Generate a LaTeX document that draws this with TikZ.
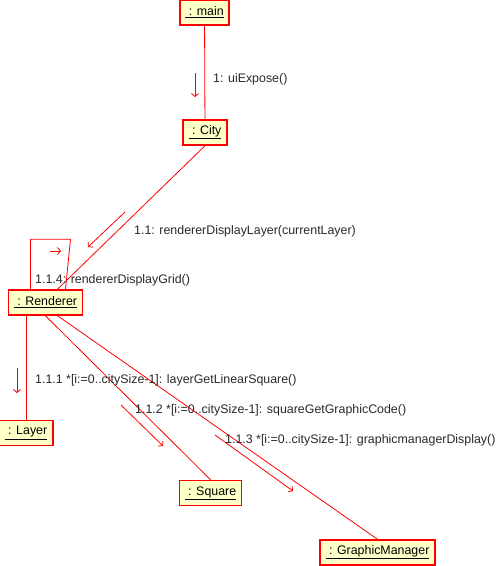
\documentclass[tikz,border=0pt]{standalone}
\usepackage{fontspec}
\setmainfont{Liberation Sans}
\usetikzlibrary{arrows.meta}
\definecolor{umlRed}{RGB}{255,0,0}
\definecolor{umlYellow}{RGB}{255,255,200}
\definecolor{umlText}{RGB}{40,40,40}

\begin{document}
\begin{tikzpicture}[x=1pt,y=-1pt,
  obj/.style={draw=umlRed,fill=umlYellow,line width=1.5pt,minimum height=25pt,inner xsep=5.5pt,inner ysep=0pt,font=\fontsize{12.4}{14}\selectfont},
  link/.style={draw=umlRed,line width=0.8pt},
  msg/.style={draw=umlRed,line width=0.8pt,-{Straight Barb[length=3pt,width=7pt]}},
  lbl/.style={anchor=west,inner sep=0pt,text=umlText,font=\fontsize{12.4}{14}\selectfont}]
\useasboundingbox (0,0) rectangle (499,566);
\node[obj] (main) at (204.5,12.5) {\underline{\ : main}};
\node[obj] (city) at (205,132.5) {\underline{\ : City}};
\node[obj] (renderer) at (45.5,302.5) {\underline{\ : Renderer}};
\node[obj] (layer) at (26,433) {\underline{\ : Layer}};
\node[obj] (square) at (210.5,493) {\underline{\ : Square}};
\node[obj] (gm) at (377.5,552.5) {\underline{\ : GraphicManager}};

\draw[link] (main) -- (city);
\draw[link] (city.south) -- ([xshift=12pt]renderer.north);
\draw[link] ([xshift=-15pt]renderer.north) -- ++(0,-50) -- ++(40,0) -- ([xshift=20pt]renderer.north);
\draw[link] (renderer.south -| layer.north) -- (layer.north);
\draw[link] (renderer.south) -- (square.north);
\draw[link] ([xshift=12pt]renderer.south) -- (gm.north);

\coordinate (m1a) at (195,73);   \coordinate (m1b) at (195,97);
\coordinate (m11a) at (125,212); \coordinate (m11b) at (88,247);
\coordinate (m114a) at (50,251); \coordinate (m114b) at (61,251);
\coordinate (m111a) at (17,368); \coordinate (m111b) at (17,393);
\coordinate (m112a) at (121,405); \coordinate (m112b) at (163,446);
\coordinate (m113a) at (215,435); \coordinate (m113b) at (293,491);
\draw[msg] (m1a) -- (m1b);
\draw[msg] (m11a) -- (m11b);
\draw[msg] (m114a) -- (m114b);
\draw[msg] (m111a) -- (m111b);
\draw[msg] (m112a) -- (m112b);
\draw[msg] (m113a) -- (m113b);

\node[lbl] (l1) at (213,79) {1: uiExpose()};
\node[lbl] (l11) at (134,231) {1.1: rendererDisplayLayer(currentLayer)};
\node[lbl] (l114) at (35,280) {1.1.4: rendererDisplayGrid()};
\node[lbl] (l111) at (35,380) {1.1.1 *[i:=0..citySize-1]: layerGetLinearSquare()};
\node[lbl] (l112) at (135,410) {1.1.2 *[i:=0..citySize-1]: squareGetGraphicCode()};
\node[lbl] (l113) at (225,440) {1.1.3 *[i:=0..citySize-1]: graphicmanagerDisplay()};
\end{tikzpicture}
\end{document}
